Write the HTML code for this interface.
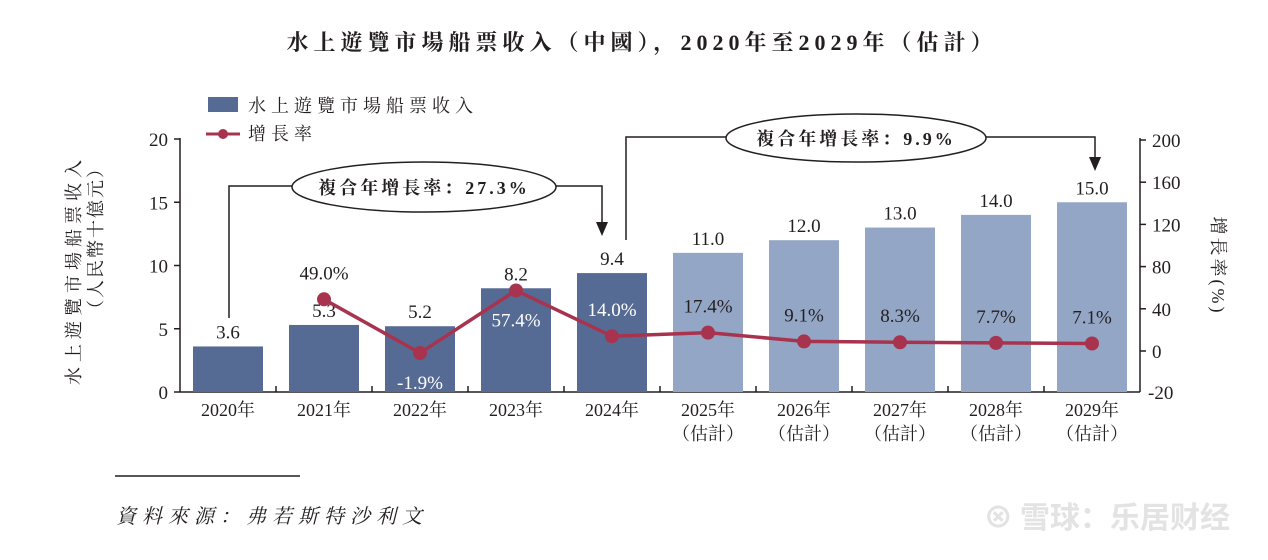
<!DOCTYPE html>
<html><head><meta charset="utf-8">
<style>
body{margin:0;background:#fff;}
svg text{font-family:"Liberation Serif","Noto Serif CJK SC",serif;fill:#231f20;}
</style></head>
<body>
<svg width="1268" height="555" viewBox="0 0 1268 555">
<text x="642" y="50" text-anchor="middle" font-size="22" font-weight="bold" letter-spacing="5">水上遊覽市場船票收入（中國），2020年至2029年（估計）</text>
<g>
<rect x="208" y="97" width="30" height="15" fill="#566b94"/>
<text x="248" y="112" font-size="18" letter-spacing="5">水上遊覽市場船票收入</text>
<line x1="206" y1="134" x2="240" y2="134" stroke="#a8334f" stroke-width="3"/>
<circle cx="223" cy="134" r="5" fill="#a8334f"/>
<text x="248" y="140" font-size="18" letter-spacing="5">增長率</text>
</g>
<g id="plot"></g>
<text transform="translate(80,270) rotate(-90)" text-anchor="middle" font-size="18" letter-spacing="5">水上遊覽市場船票收入</text>
<text transform="translate(102,238) rotate(-90)" text-anchor="middle" font-size="18" letter-spacing="2">（人民幣十億元）</text>
<text transform="translate(1212,266) rotate(90)" text-anchor="middle" font-size="18" letter-spacing="3">增長率(%)</text>
<g>
<polyline points="229,318 229,186 292,186" fill="none" stroke="#231f20" stroke-width="1.5"/>
<polyline points="556,186 602,186 602,222" fill="none" stroke="#231f20" stroke-width="1.5"/>
<polygon points="596,222 608,222 602,236" fill="#231f20"/>
<ellipse cx="424" cy="187" rx="132" ry="25" fill="#fff" stroke="#231f20" stroke-width="1.5"/>
<text x="424" y="194" text-anchor="middle" font-size="18" font-weight="bold" letter-spacing="3">複合年增長率：27.3%</text>
</g>
<g>
<polyline points="626,240 626,137 726,137" fill="none" stroke="#231f20" stroke-width="1.5"/>
<polyline points="986,137 1095,137 1095,157" fill="none" stroke="#231f20" stroke-width="1.5"/>
<polygon points="1089,157 1101,157 1095,171" fill="#231f20"/>
<ellipse cx="856" cy="138" rx="130" ry="24" fill="#fff" stroke="#231f20" stroke-width="1.5"/>
<text x="856" y="145" text-anchor="middle" font-size="18" font-weight="bold" letter-spacing="3">複合年增長率：9.9%</text>
</g>
<line x1="115" y1="476" x2="300" y2="476" stroke="#231f20" stroke-width="1.5"/>
<text x="116" y="523" font-size="20" font-style="italic" letter-spacing="6">資料來源：弗若斯特沙利文</text>
<text x="1230" y="528" text-anchor="end" font-size="30" font-weight="bold" style="fill:#e3e3e3;font-family:'Noto Sans CJK SC',sans-serif">⊗ 雪球：乐居财经</text>
</svg>
<script>
const years = ["2020年","2021年","2022年","2023年","2024年","2025年","2026年","2027年","2028年","2029年"];
const estimated = [false,false,false,false,false,true,true,true,true,true];
const revenue = [3.6,5.3,5.2,8.2,9.4,11.0,12.0,13.0,14.0,15.0];
const growth = [null,49.0,-1.9,57.4,14.0,17.4,9.1,8.3,7.7,7.1];
const leftTicks = [0,5,10,15,20];
const rightTicks = [200,160,120,80,40,0];

const NS="http://www.w3.org/2000/svg";
const g=document.getElementById('plot');
const X0=180,X1=1140,Y0=392,Y20=139;
const yL=v=>Y0-(v/20)*(Y0-Y20);
const yR=v=>351-v*1.055;
const step=(X1-X0)/years.length;
const xc=i=>X0+step*(i+0.5);
function el(t,a,txt){const e=document.createElementNS(NS,t);for(const k in a)e.setAttribute(k,a[k]);if(txt!=null)e.textContent=txt;g.appendChild(e);return e;}

let a=el('line',{x1:X0,y1:Y20-1,x2:X0,y2:Y0,stroke:'#231f20','stroke-width':1.5});


a=el('line',{x1:X1,y1:Y20-1,x2:X1,y2:Y0,stroke:'#231f20','stroke-width':1.5});


a=el('line',{x1:X0,y1:Y0,x2:X1,y2:Y0,stroke:'#231f20','stroke-width':1.5});


leftTicks.forEach(v=>{
  el('line',{x1:X0-6,y1:yL(v),x2:X0,y2:yL(v),stroke:'#231f20','stroke-width':1.5});
  const t=el('text',{x:X0-12,y:yL(v)+7,'text-anchor':'end','font-size':19},String(v));
  
  
});
rightTicks.forEach(v=>{
  el('line',{x1:X1,y1:yR(v),x2:X1+6,y2:yR(v),stroke:'#231f20','stroke-width':1.5});
  const t=el('text',{x:X1+12,y:yR(v)+7,'font-size':19},String(v));
  
  
});
{const t=el('text',{x:X1+8,y:Y0+7,'font-size':19},'-20');

}
for(let i=1;i<years.length;i++) el('line',{x1:X0+step*i,y1:Y0-6,x2:X0+step*i,y2:Y0,stroke:'#231f20','stroke-width':1.5});

years.forEach((y,i)=>{
  const b=el('rect',{x:xc(i)-35,y:yL(revenue[i]),width:70,height:Y0-yL(revenue[i]),fill:estimated[i]?'#94a6c5':'#566b94'});
  
  
  const vl=el('text',{x:xc(i),y:yL(revenue[i])-8,'text-anchor':'middle','font-size':19},revenue[i].toFixed(1));
  
  
  const xl=el('text',{x:xc(i),y:Y0+24,'text-anchor':'middle','font-size':18},y);
  
  
  if(estimated[i]){
    const e2=el('text',{x:xc(i),y:Y0+48,'text-anchor':'middle','font-size':18},'（估計）');
    
    
  }
});
const pts=[];growth.forEach((v,i)=>{if(v!=null)pts.push([xc(i),yR(v)]);});
const pl=el('polyline',{points:pts.map(p=>p.join(',')).join(' '),fill:'none',stroke:'#a8334f','stroke-width':3.5});


growth.forEach((v,i)=>{
  if(v==null)return;
  const c=el('circle',{cx:xc(i),cy:yR(v),r:7,fill:'#a8334f'});
  
  
  const below = (i===2 || i===3);
  const ly = below ? yR(v)+36 : yR(v)-20;
  const white = (i>=2 && i<=4);
  const t=el('text',{x:xc(i),y:ly,'text-anchor':'middle','font-size':19,style:'fill:'+(white?'#fff':'#231f20')},v.toFixed(1)+'%');
  
  
});
</script>
</body></html>
